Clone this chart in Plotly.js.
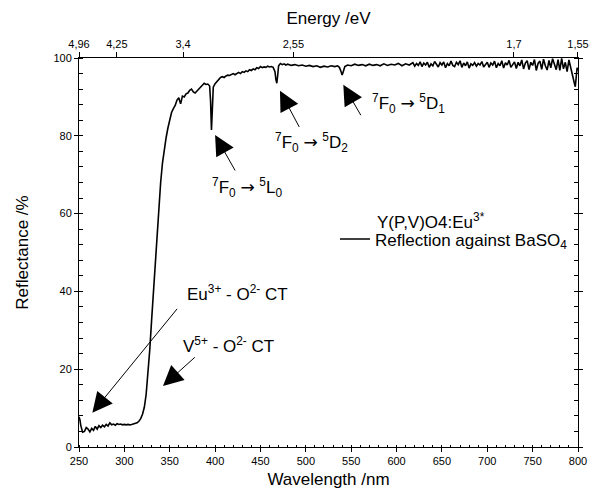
<!DOCTYPE html>
<html>
<head>
<meta charset="utf-8">
<script src="https://cdn.plot.ly/plotly-3.0.1.min.js"></script>
<style>html,body{margin:0;padding:0;background:#fff}#chart{width:591px;height:492px}</style>
</head>
<body>
<div id="chart"></div>
<script>
// ---- data ----
const wlEdge = [250,251,252,253,254,256,258,260,262,264,266,268,270,272,274,276,278,280,282,284,286,288,290,292,294,296,298,300,302,304,306,308,310,312,314,316,318];
const rEdge  = [7.8,7.0,5.5,4.2,3.8,4.0,5.0,4.6,3.9,4.8,4.3,5.3,4.6,5.5,5.0,5.6,5.2,5.8,5.4,6.2,5.7,5.9,5.6,6.0,5.8,5.9,5.7,5.8,5.7,5.8,5.7,5.8,5.9,6.0,6.2,6.6,7.3];

const wlRise = [320,322,324,326,328,330,332,334,336,338,340,342,344,346,348,350,352,354,356,358,360,362,363,364,366,368,370,372,374,376,378,380,382,384,386,388,390,392,394,395,396,397,398,400,402,404,406,408,410,412,414,416,418,420,422,424,426,428,430,432,434,436,438,440,442,444,446,448,450,452,454,456,458,460,462,464,466,467,468,469,470,472,474,476,478];
const rRise  = [8.4,10.2,13.5,18.5,25,32.5,40,47.5,55,62,68,73,77,79.5,82,84.5,86,87,87.8,89.2,89.8,88.2,89.0,90.2,90.0,90.8,91.0,91.7,92.0,91.3,91.0,91.5,92.0,92.6,93.0,93.5,93.2,93.3,92.8,89,81.5,86,92.5,93.4,94.0,94.3,95.0,95.2,95.0,95.4,95.6,95.5,95.8,96.0,95.7,96.1,96.3,96.0,96.5,96.3,96.7,96.5,97.0,96.8,97.2,97.0,97.5,97.3,97.8,97.5,97.7,97.6,97.9,97.7,97.8,97.6,96.5,94.5,93.5,95.5,98.0,98.6,98.3,98.5,98.2];

const wlFlat = [480,484,488,492,496,500,504,508,512,516,520,524,528,532,535,537,539,540,541,543,546,550,554,558,562,566,570,574,578,582,586,590,594,598,602,606,610,614,618,620,622,624,626,628,630,632,634,636,638,640,642,644,646,648,650,652,654,656,658,660,662,664,666,668,670,672,674,676,678,680,682,684,686,688,690,692,694,696,698,700,702,704,706,708,710,712,714,716,718,720,722,724,726,728,730,732,734,736,738,740,742,744,746,748,750,752,754,756,758,760,762,764,766,768,770,772,774,776,778,780,782,784,786,788,790,792,794,796,797,798,799,800];
const rFlat  = [98.4,98.1,98.3,98.0,98.2,97.9,98.1,97.8,98.0,97.6,97.9,97.7,98.0,97.8,98.0,97.6,96.4,95.6,96.3,97.8,98.2,98.0,98.4,98.1,98.3,98.0,98.4,98.1,98.3,98.0,98.5,98.1,98.4,98.2,98.6,98.0,98.5,98.2,98.8,97.9,98.6,98.1,99.0,97.8,98.7,98.2,98.9,97.6,98.5,98.0,99.1,98.3,97.7,98.8,98.2,99.0,97.5,98.6,98.0,99.2,98.1,97.8,98.9,98.3,99.3,97.6,98.7,98.0,99.0,97.4,98.5,98.1,98.8,97.9,98.6,98.2,99.1,97.7,98.4,98.9,97.6,98.7,98.2,99.2,97.5,98.6,98.0,99.3,97.4,98.8,98.2,99.4,97.6,98.5,99.0,97.3,98.9,98.0,99.5,97.2,98.7,99.3,97.0,98.9,98.1,99.6,96.8,98.6,99.2,97.1,99.7,98.0,96.9,99.4,97.5,99.8,98.2,97.0,99.6,96.8,99.9,97.2,98.9,96.5,99.5,97.0,95.5,93.5,92.6,95.0,97.5,96.8];

// top axis: photon energies (eV) and their labels
const energyTicks  = [4.96, 4.25, 3.4, 2.55, 1.7, 1.55];
const energyLabels = ['4,96','4,25','3,4','2,55','1,7','1,55'];

// annotations: labels and arrows (data coordinates)
const ARROW = '<span style="font-family:\'DejaVu Sans\'">\u2192</span>';
const labelText = [
  '<sup>7</sup>F<sub>0</sub> ' + ARROW + ' <sup>5</sup>L<sub>0</sub>',
  '<sup>7</sup>F<sub>0</sub> ' + ARROW + ' <sup>5</sup>D<sub>2</sub>',
  '<sup>7</sup>F<sub>0</sub> ' + ARROW + ' <sup>5</sup>D<sub>1</sub>',
  'Eu<sup>3+</sup> - O<sup>2-</sup> CT',
  'V<sup>5+</sup> - O<sup>2-</sup> CT'
];
const labelX = [435, 506, 613, 425, 415];
const labelY = [66.8, 78.4, 88.2, 39.6, 26.2];
const arrowTipX  = [400, 471.5, 541.3, 264.7, 342.6];
const arrowTipY  = [80.2, 91.6, 93.1, 8.8, 15.7];
const arrowTailX = [423, 493.6, 561.6, 359.5, 379.3];
const arrowTailY = [70.7, 81.9, 84.9, 35.9, 23.4];

const sampleName = 'Y(P,V)O4:Eu<sup>3*</sup>';
const legendName = 'Reflection against BaSO<sub>4</sub>';

// ---- chart ----
const FONT = 'Arial, "Liberation Sans", sans-serif';
const wl = wlEdge.concat(wlRise, wlFlat);
const refl = rEdge.concat(rRise, rFlat);

const traces = [{
  x: wl, y: refl, type: 'scatter', mode: 'lines',
  line: {color: '#000', width: 1.6},
  name: legendName, showlegend: true
}, {
  // same spectrum on the energy axis (invisible) so the top axis is drawn
  x: wl, y: refl, type: 'scatter', mode: 'lines', xaxis: 'x2',
  line: {color: 'rgba(0,0,0,0)', width: 0}, showlegend: false, hoverinfo: 'skip'
}];

const annotations = [];
for (let i = 0; i < labelText.length; i++) {
  annotations.push({
    x: labelX[i], y: labelY[i], xref: 'x', yref: 'y',
    text: labelText[i], showarrow: false,
    font: {family: FONT, size: 17, color: '#000'}
  });
  annotations.push({
    x: arrowTipX[i], y: arrowTipY[i], ax: arrowTailX[i], ay: arrowTailY[i],
    xref: 'x', yref: 'y', axref: 'x', ayref: 'y',
    text: '', showarrow: true, arrowhead: 2, arrowsize: 4, arrowwidth: 1,
    arrowcolor: '#000', font: {size: 1}
  });
}
annotations.push({
  x: 0.593, y: 0.582, xref: 'paper', yref: 'paper', xanchor: 'left', yanchor: 'middle',
  text: sampleName, showarrow: false, font: {family: FONT, size: 17, color: '#000'}
});

const layout = {
  width: 591, height: 492,
  margin: {l: 79, r: 13, t: 58, b: 45},
  paper_bgcolor: '#fff', plot_bgcolor: '#fff',
  font: {family: FONT, color: '#000', size: 11},
  showlegend: true,
  legend: {x: 0.513, y: 0.58, xanchor: 'left', yanchor: 'top',
           bgcolor: 'rgba(0,0,0,0)', font: {family: FONT, size: 17, color: '#000'}},
  xaxis: {
    range: [250, 800], tick0: 250, dtick: 50,
    ticks: 'outside', ticklen: 4, tickwidth: 1, tickcolor: '#000',
    minor: {dtick: 10, ticks: 'inside', ticklen: 2, tickcolor: '#000'},
    showline: true, linecolor: '#000', linewidth: 1,
    showgrid: false, zeroline: false,
    tickfont: {family: FONT, size: 11, color: '#000'},
    title: {text: 'Wavelength /nm', font: {family: FONT, size: 17, color: '#000'}, standoff: 6}
  },
  xaxis2: {
    overlaying: 'x', side: 'top', range: [249.99, 800.01],
    tickmode: 'array',
    tickvals: energyTicks.map(e => 1240 / e),
    ticktext: energyLabels,
    ticks: 'outside', ticklen: 5, tickwidth: 1, tickcolor: '#000',
    showline: true, linecolor: '#000', linewidth: 1,
    showgrid: false, zeroline: false,
    tickfont: {family: FONT, size: 11, color: '#000'},
    title: {text: 'Energy /eV', font: {family: FONT, size: 17, color: '#000'}, standoff: 8}
  },
  yaxis: {
    range: [0, 100], tick0: 0, dtick: 20,
    ticks: 'outside', ticklen: 4, tickwidth: 1, tickcolor: '#000',
    minor: {dtick: 4, ticks: 'inside', ticklen: 3, tickcolor: '#000'},
    showline: true, linecolor: '#000', linewidth: 1, mirror: 'allticks',
    showgrid: false, zeroline: false,
    tickfont: {family: FONT, size: 11, color: '#000'},
    title: {text: 'Reflectance /%', font: {family: FONT, size: 17, color: '#000'}, standoff: 20}
  },
  annotations: annotations
};

Plotly.newPlot('chart', traces, layout, {staticPlot: true, displayModeBar: false});
</script>
</body>
</html>
